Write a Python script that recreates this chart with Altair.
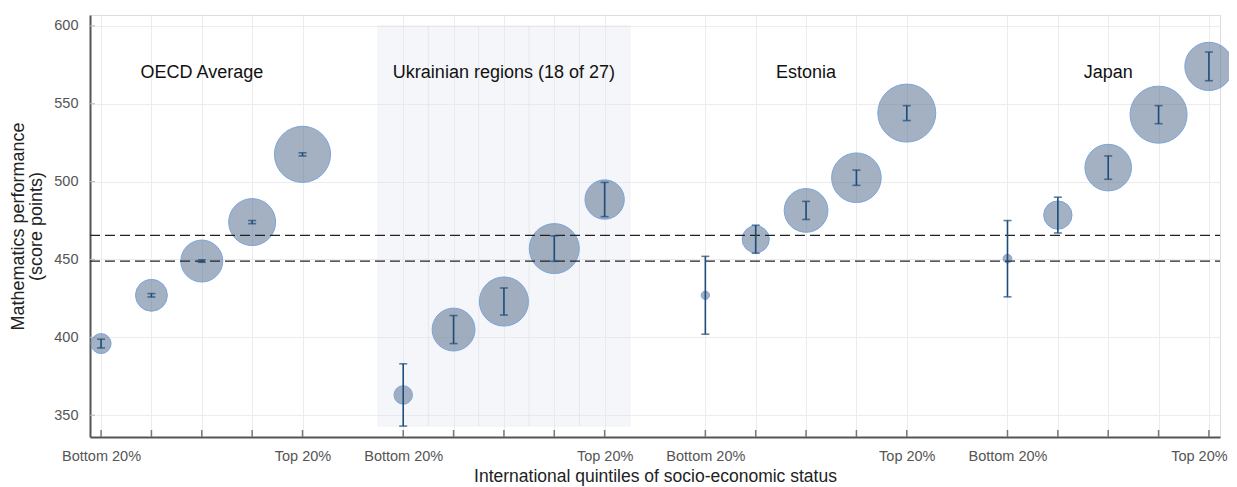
import altair as alt
import pandas as pd

# ---- data ----
groups = ["OECD Average", "Ukrainian regions (18 of 27)", "Estonia", "Japan"]
quintile_labels = ["Bottom 20%", "", "", "", "Top 20%"]

mean_oecd = [396, 427, 449, 474, 517.5]
mean_ukr = [363, 405, 423, 457, 488.5]
mean_est = [427, 463, 481.5, 502.5, 544]
mean_jpn = [450.5, 478.5, 509, 543, 574]

ci_oecd = [2.8, 1.1, 0.8, 1.0, 1.0]
ci_ukr = [20, 9, 8.7, 8.2, 11]
ci_est = [25, 9, 5.8, 4.9, 4.8]
ci_jpn = [24.5, 11.5, 7.5, 5.8, 9.2]

share_oecd = [4.7, 11.9, 20.6, 25.8, 36.9]
share_ukr = [4.0, 21.5, 28.2, 29.2, 18.1]
share_est = [0.8, 8.6, 22.4, 28.8, 39.3]
share_jpn = [0.9, 9.4, 25.4, 38.1, 27.2]

ref_lines = [465.5, 449]
highlight_group = "Ukrainian regions (18 of 27)"
band_low, band_high = 343, 600
label_y = 570

means = [mean_oecd, mean_ukr, mean_est, mean_jpn]
cis = [ci_oecd, ci_ukr, ci_est, ci_jpn]
shares = [share_oecd, share_ukr, share_est, share_jpn]

rows = []
for gi, g in enumerate(groups):
    for qi in range(5):
        m = means[gi][qi]
        c = cis[gi][qi]
        rows.append({
            "group": g,
            "pos": gi * 6 + qi,
            "quintile": quintile_labels[qi],
            "mean": m,
            "low": m - c,
            "high": m + c,
            "share": shares[gi][qi],
        })
df = pd.DataFrame(rows)

positions = list(df["pos"])
# label expression built from the lists
expr = "''"
for p, lab in zip(positions, list(df["quintile"])):
    if lab:
        expr = f"datum.value == {p} ? '{lab}' : ({expr})"
last_pos = max(positions)

band_df = df[df["group"] == highlight_group].assign(x1=lambda d: d["pos"] - 0.5, x2=lambda d: d["pos"] + 0.5,
                                                    ylo=band_low, yhi=band_high)
label_df = pd.DataFrame({"group": groups, "pos": [gi * 6 + 2 for gi in range(len(groups))], "y": [label_y] * len(groups)})
ref_df = pd.DataFrame({"y": ref_lines})
ytick_df = pd.DataFrame({"y": [350, 400, 450, 500, 550, 600]})

W, H = 1130, 422
xs = alt.Scale(domain=[-0.22, 22.22], nice=False, zero=False)
ys = alt.Scale(domain=[336, 607], nice=False, zero=False)

FONT = "Liberation Sans"
NAVY = "#1d4c7a"

x_axis = alt.Axis(values=positions, labelExpr=expr, ticks=False, labelPadding=12, labelFontSize=14.5,
                  labelColor="#555555", labelFont=FONT, grid=True, gridColor="#ececec", gridWidth=1,
                  domainColor="#555555", domainWidth=2, title="International quintiles of socio-economic status",
                  titleFontSize=17.5, titleFontWeight="normal", titleColor="#222222", titleFont=FONT,
                  titlePadding=5, labelOverlap=False,
                  labelOffset={"condition": {"test": f"datum.value == {last_pos}", "value": -10}, "value": 0})
y_axis = alt.Axis(values=[350, 400, 450, 500, 550, 600], ticks=False, labelPadding=12, labelFontSize=14.5,
                  labelColor="#555555", labelFont=FONT, grid=True, gridColor="#ececec", gridWidth=1,
                  domainColor="#555555", domainWidth=2, title=["Mathematics performance", "(score points)"],
                  titleFontSize=18, titleFontWeight="normal", titleColor="#222222", titleFont=FONT,
                  titlePadding=8, titleLineHeight=18)

base = alt.Chart(df)

band = alt.Chart(band_df).mark_rect(fill="#e3e8ef", opacity=0.35, stroke="#d5dae2", strokeWidth=1).encode(
    x=alt.X("x1:Q", scale=xs, axis=x_axis), x2="x2:Q",
    y=alt.Y("ylo:Q", scale=ys, axis=y_axis), y2="yhi:Q")

xticks = base.mark_rule(color="#777777", strokeWidth=1.5).encode(
    x=alt.X("pos:Q", scale=xs), y=alt.value(H), y2=alt.value(H - 7))

yticks = alt.Chart(ytick_df).mark_rule(color="#bbbbbb", strokeWidth=1).encode(
    y=alt.Y("y:Q", scale=ys), x=alt.value(0), x2=alt.value(5))

circles = base.mark_point(filled=True, shape="circle", fill="#5a7190", fillOpacity=0.55,
                          stroke="#7aa5dc", strokeWidth=1, strokeOpacity=1, opacity=1).encode(
    x=alt.X("pos:Q", scale=xs), y=alt.Y("mean:Q", scale=ys),
    size=alt.Size("share:Q", scale=alt.Scale(domain=[0, 100], range=[0, 8545]), legend=None))

refs = alt.Chart(ref_df).mark_rule(color="#222222", strokeWidth=1.2, strokeDash=[10, 5]).encode(
    y=alt.Y("y:Q", scale=ys), x=alt.value(0), x2=alt.value(W))

err = base.mark_rule(color=NAVY, strokeWidth=1.6).encode(
    x=alt.X("pos:Q", scale=xs), y=alt.Y("low:Q", scale=ys), y2="high:Q")

caps = base.transform_fold(["low", "high"], as_=["end", "val"]).mark_tick(
    orient="horizontal", size=8, thickness=1.6, color=NAVY).encode(
    x=alt.X("pos:Q", scale=xs), y=alt.Y("val:Q", scale=ys))

labels = alt.Chart(label_df).mark_text(fontSize=18, font=FONT, color="#111111", align="center",
                                       baseline="middle").encode(
    x=alt.X("pos:Q", scale=xs), y=alt.Y("y:Q", scale=ys), text="group:N")

chart = alt.layer(band, yticks, xticks, circles, refs, err, caps, labels).properties(
    width=W, height=H,
    autosize=alt.AutoSizeParams(type="none"),
    padding={"left": 82, "top": 7, "right": 9, "bottom": 50},
).configure_view(fill="#fbfbfb", strokeWidth=0).configure(background="white")

chart.save("out.html", embed_options={"renderer": "svg", "actions": False})
